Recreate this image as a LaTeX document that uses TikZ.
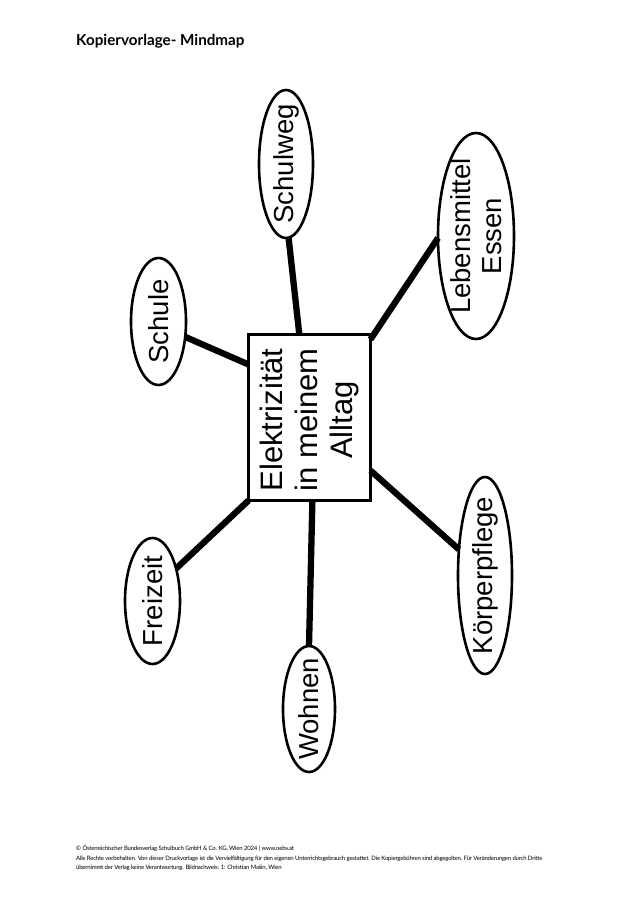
\documentclass[tikz,border=0pt]{standalone}
\usepackage{fontspec}
\setmainfont{Liberation Sans}
\newfontfamily\headfont{Lato}
\usetikzlibrary{shapes.geometric}
\tikzset{
    topic/.style={ellipse, draw, line width=2.6pt, fill=white, inner sep=0pt, outer sep=0pt},
    hub/.style={draw, line width=2.8pt, fill=white, minimum width=122pt, minimum height=166pt, inner sep=0pt, outer sep=0pt},
    spoke/.style={line width=6.3pt},
    label/.style={rotate=90, align=center, inner sep=0pt, font=\fontsize{27.5}{31}\selectfont},
    foot/.style={anchor=north west, inner sep=0pt, align=left, font=\headfont\fontsize{6}{9.5}\selectfont\addfontfeature{LetterSpace=-3.5}}
}
\begin{document}
\begin{tikzpicture}[x=1pt, y=-1pt]
    \useasboundingbox (0, 0) rectangle (640, 905);
    \fill[white] (0, 0) rectangle (640, 905);
    % topics
    \node[topic, minimum width=54pt, minimum height=148pt] (schulweg) at (286, 164) {};
    \node[topic, minimum width=55pt, minimum height=127pt] (schule) at (158.5, 321.5) {};
    \node[topic, minimum width=76pt, minimum height=206pt] (essen) at (476, 236) {};
    \node[topic, minimum width=54pt, minimum height=197pt] (pflege) at (485, 575.5) {};
    \node[topic, minimum width=55pt, minimum height=126pt] (freizeit) at (152.5, 601) {};
    \node[topic, minimum width=52pt, minimum height=126pt] (wohnen) at (309, 709) {};
    \node[hub] (main) at (309.5, 417.5) {};
    % spokes
    \draw[spoke] (schulweg.-88) -- (main.97);
    \draw[spoke] (schule.-30) -- (main.139);
    \draw[spoke] (essen.183) -- (main.52.6);
    \draw[spoke] (pflege.135) -- (main.-41);
    \draw[spoke] (freizeit.54) -- (main.south west);
    \draw[spoke] (wohnen.north) -- (main.272);
    % labels
    \node[label] (schulwegtext) at (schulweg) {Schulweg};
    \node[label] (schuletext) at (schule) {Schule};
    \node[label] (essentext) at (essen) {Lebensmittel\\Essen};
    \node[label] (pflegetext) at (pflege) {Körperpflege};
    \node[label] (freizeittext) at (freizeit) {Freizeit};
    \node[label] (wohnentext) at (wohnen) {Wohnen};
    \node[label, font=\fontsize{31}{35}\selectfont] (maintext) at (309.5, 420) {Elektrizität\\in meinem\\Alltag};
    \node[anchor=west, inner sep=0pt, font=\headfont\bfseries\fontsize{15.2}{17}\selectfont] (title) at (76, 41) {Kopiervorlage- Mindmap};
    \node[foot] (legal) at (76, 845) {© Österreichischer Bundesverlag Schulbuch GmbH \& Co. KG, Wien 2024 | www.oebv.at\\
    Alle Rechte vorbehalten. Von dieser Druckvorlage ist die Vervielfältigung für den eigenen Unterrichtsgebrauch gestattet. Die Kopiergebühren sind abgegolten. Für Veränderungen durch Dritte\\
    übernimmt der Verlag keine Verantwortung. Bildnachweis: 1: Christian Mašin, Wien};
\end{tikzpicture}
\end{document}
